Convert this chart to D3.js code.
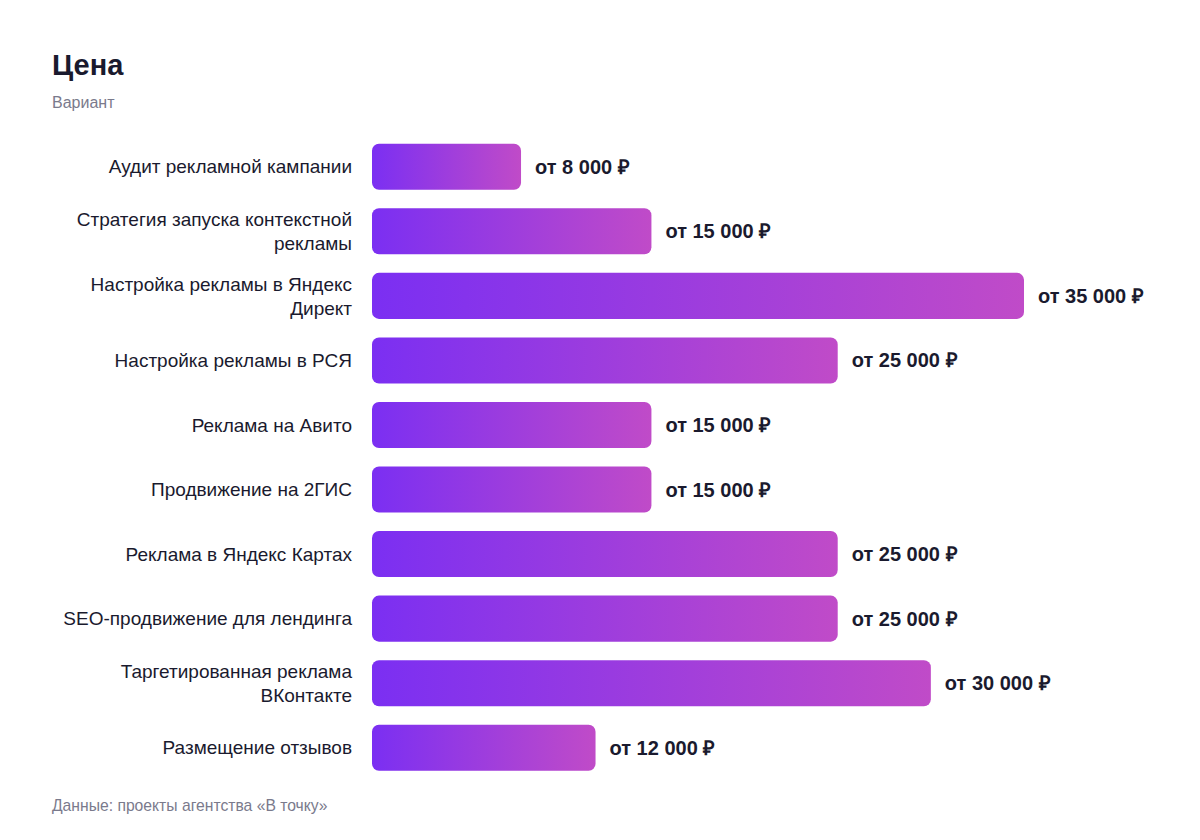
<!DOCTYPE html>
<html>
<head>
<meta charset="utf-8">
<script src="https://cdn.jsdelivr.net/npm/d3@7"></script>
<style>
  body { margin: 0; background: #fff; }
  text { font-family: "Liberation Sans", Arial, Helvetica, sans-serif; }
</style>
</head>
<body>
<svg id="chart" width="1200" height="840"></svg>
<script>
'use strict';

// data
var services = ['Аудит рекламной кампании', 'Стратегия запуска контекстной рекламы', 'Настройка рекламы в Яндекс Директ', 'Настройка рекламы в РСЯ', 'Реклама на Авито', 'Продвижение на 2ГИС', 'Реклама в Яндекс Картах', 'SEO-продвижение для лендинга', 'Таргетированная реклама ВКонтакте', 'Размещение отзывов'];
var prices = [8000, 15000, 35000, 25000, 15000, 15000, 25000, 25000, 30000, 12000];

var svg = d3.select('#chart');

//Gradient for the bars
var grad = svg.append('defs').append('linearGradient')
	.attr('id', 'barGrad')
	.attr('x1', '0%').attr('x2', '100%').attr('y1', '0%').attr('y2', '0%');
grad.append('stop').attr('offset', '0%').attr('stop-color', '#7b2ff2');
grad.append('stop').attr('offset', '100%').attr('stop-color', '#c04bc8');

//Title block
svg.append('text').attr('x', 52).attr('y', 75)
	.attr('font-size', 29).attr('font-weight', 'bold').attr('fill', '#1a1a2e')
	.text('Цена');
svg.append('text').attr('x', 52).attr('y', 108)
	.attr('font-size', 16).attr('fill', '#7a7a8c')
	.text('Вариант');

//Scales
var x = d3.scaleLinear().domain([0, 35000]).range([372, 1024]);
var y = d3.scaleBand().domain(services).range([134.5, 780]).paddingInner(0.287).paddingOuter(0.1435);

var fmt = function(v){
	return 'от ' + d3.format(',')(v).replace(/,/g, '\u00a0') + ' \u20bd';
};

//Bars
svg.selectAll('.bar').data(services).enter().append('rect')
	.attr('class', 'bar')
	.attr('x', x(0))
	.attr('y', function(d){ return y(d); })
	.attr('width', function(d, i){ return x(prices[i]) - x(0); })
	.attr('height', y.bandwidth())
	.attr('rx', 7).attr('ry', 7)
	.attr('fill', 'url(#barGrad)');

//Value labels
svg.selectAll('.val').data(services).enter().append('text')
	.attr('class', 'val')
	.attr('x', function(d, i){ return x(prices[i]) + 14; })
	.attr('y', function(d){ return y(d) + y.bandwidth() / 2; })
	.attr('dy', '0.35em')
	.attr('font-size', 20).attr('font-weight', 'bold').attr('fill', '#1a1a2e')
	.text(function(d, i){ return fmt(prices[i]); });

//Category labels, wrapped
var maxW = 300;
var lineH = 24;
services.forEach(function(name){
	var t = svg.append('text')
		.attr('x', 352)
		.attr('text-anchor', 'end')
		.attr('font-size', 19).attr('fill', '#1a1a2e');
	var words = name.split(' ');
	var lines = [];
	var cur = [];
	var probe = t.append('tspan');
	words.forEach(function(w){
		cur.push(w);
		probe.text(cur.join(' '));
		if(probe.node().getComputedTextLength() > maxW && cur.length > 1){
			cur.pop();
			lines.push(cur.join(' '));
			cur = [w];
		}
	});
	lines.push(cur.join(' '));
	probe.remove();
	var cy = y(name) + y.bandwidth() / 2;
	var top = cy - (lines.length - 1) * lineH / 2;
	lines.forEach(function(l, k){
		t.append('tspan').attr('x', 352).attr('y', top + k * lineH).attr('dy', '0.35em').text(l);
	});
});

//Footer
svg.append('text').attr('x', 52).attr('y', 811)
	.attr('font-size', 15.7).attr('fill', '#7a7a8c')
	.text('Данные: проекты агентства «В точку»');
</script>
</body>
</html>
